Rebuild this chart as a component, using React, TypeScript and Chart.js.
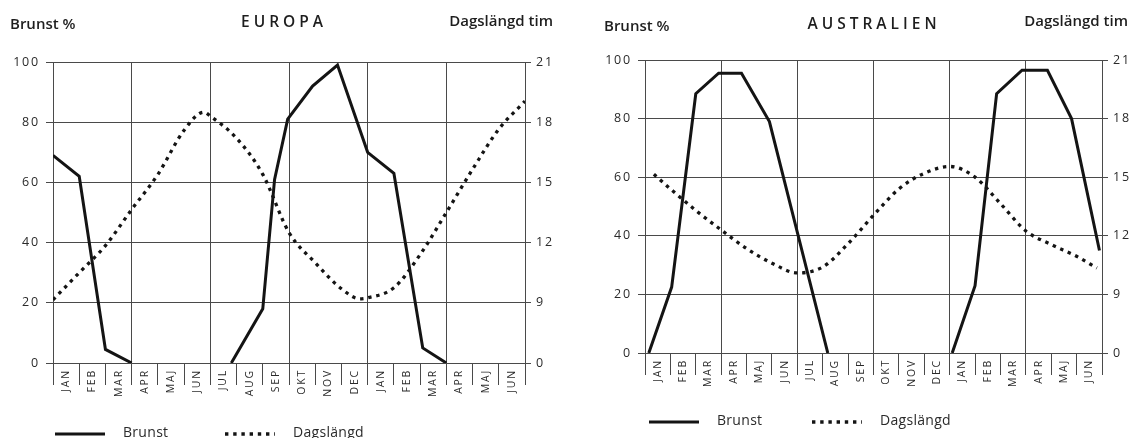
import React, { useEffect, useRef } from 'react';
import { Chart, registerables } from 'chart.js';

Chart.register(...registerables);

// ---------- data ----------
const MONTHS = ['JAN', 'FEB', 'MAR', 'APR', 'MAJ', 'JUN', 'JUL', 'AUG', 'SEP', 'OKT', 'NOV', 'DEC', 'JAN', 'FEB', 'MAR', 'APR', 'MAJ', 'JUN'];
const PERCENT_STEP = 20;
const HOUR_MIN = 6; // shown as "0" (broken axis)
const HOUR_MAX = 21;
const HOUR_STEP = 3;

// Europa – Brunst (%), positions in months from start of January
const EU_BRUNST_X = [0, 1, 2, 3, 5, 6.8, 8, 8.45, 8.95, 9.9, 10.85, 12, 13, 14.1, 15];
const EU_BRUNST = [69, 62, 4.5, 0, null, 0, 18, 61, 81, 92, 99, 70, 63, 5, 0];
// Europa – Dagslängd (hours)
const EU_DAG_X = [0, 1, 2, 3, 4, 5, 5.75, 6, 7, 8, 9, 10, 11, 11.7, 12, 13, 14, 15, 16, 17, 18];
const EU_DAG = [9.15, 10.5, 11.85, 13.65, 15.4, 17.6, 18.5, 18.3, 17.2, 15.4, 12.5, 11.0, 9.7, 9.2, 9.25, 9.75, 11.4, 13.5, 15.65, 17.65, 19.05];

// Australien – Brunst (%)
const AU_BRUNST_X = [0.15, 1.05, 2, 2.9, 3.8, 4.9, 7.2, 9.5, 12.1, 13, 13.85, 14.85, 15.85, 16.8, 17.9];
const AU_BRUNST = [0, 22.5, 88.5, 95.5, 95.5, 79, 0, null, 0, 23, 88.5, 96.5, 96.5, 80, 35];
// Australien – Dagslängd (hours)
const AU_DAG_X = [0.35, 1, 2, 3, 4, 5, 6, 7, 8, 9, 10, 11, 12, 13, 14, 15, 16, 17, 17.8];
const AU_DAG = [15.15, 14.4, 13.3, 12.3, 11.35, 10.6, 10.1, 10.4, 11.6, 13.05, 14.4, 15.2, 15.55, 15.0, 13.65, 12.25, 11.55, 10.95, 10.35];

// ---------- style ----------
const INK = '#141414';
const GRID = '#4a4a4a';
const TEXT = '#2a2a2a';
const FONT = "'Open Sans', 'DejaVu Sans', sans-serif";

const toPoints = (xs: number[], ys: (number | null)[]) => xs.map((x, i) => ({ x, y: ys[i] }));

const MONTH_TICKS: number[] = MONTHS.flatMap((_, i) => [i, i + 0.5]).concat([MONTHS.length]);

const spacing = {
  id: 'spacing',
  beforeDraw(chart: any) {
    chart.ctx.letterSpacing = '1.8px';
  },
  afterDraw(chart: any) {
    chart.ctx.letterSpacing = '0px';
  },
};

const sampleLegend = {
  id: 'sampleLegend',
  afterDraw(chart: any, _args: any, opts: any) {
    const ctx = chart.ctx;
    const { left, bottom } = chart.chartArea;
    const y = bottom + opts.dy;
    chart.data.datasets.forEach((ds: any, i: number) => {
      const x0 = left + opts.offsets[i];
      ctx.save();
      ctx.letterSpacing = '0.3px';
      ctx.strokeStyle = ds.borderColor;
      ctx.lineWidth = ds.borderWidth;
      ctx.setLineDash(ds.borderDash || []);
      ctx.beginPath();
      ctx.moveTo(x0, y);
      ctx.lineTo(x0 + opts.sample, y);
      ctx.stroke();
      ctx.setLineDash([]);
      ctx.fillStyle = TEXT;
      ctx.font = `14px ${FONT}`;
      ctx.textBaseline = 'middle';
      ctx.textAlign = 'left';
      ctx.fillText(ds.label, x0 + opts.sample + opts.gap, y - 1);
      ctx.restore();
    });
  },
};

type PanelProps = {
  brunst: { x: number; y: number | null }[];
  dag: { x: number; y: number | null }[];
  width: number;
  height: number;
  padTop: number;
  padBottom: number;
  leftWidth: number;
  rightWidth: number;
  legendOffsets: number[];
  legendDy: number;
};

function Panel(p: PanelProps) {
  const ref = useRef<HTMLCanvasElement | null>(null);
  useEffect(() => {
    if (!ref.current) return;
    const chart = new Chart(ref.current, {
      type: 'line',
      data: {
        datasets: [
          {
            label: 'Brunst',
            data: p.brunst as any,
            borderColor: INK,
            borderWidth: 3,
            pointRadius: 0,
            spanGaps: false,
            tension: 0,
            borderJoinStyle: 'miter',
            yAxisID: 'y',
          },
          {
            label: 'Dagslängd',
            data: p.dag as any,
            borderColor: INK,
            borderWidth: 3.3,
            borderDash: [3.4, 4.8],
            pointRadius: 0,
            cubicInterpolationMode: 'monotone',
            yAxisID: 'y1',
          },
        ],
      },
      plugins: [spacing, sampleLegend],
      options: {
        animation: false,
        responsive: false,
        maintainAspectRatio: false,
        layout: { padding: { top: p.padTop, bottom: p.padBottom, left: 0, right: 0 } },
        plugins: {
          legend: { display: false },
          tooltip: { enabled: false },
          sampleLegend: { offsets: p.legendOffsets, dy: p.legendDy, sample: 50, gap: 18 },
        } as any,
        scales: {
          x: {
            type: 'linear',
            min: 0,
            max: MONTHS.length,
            afterBuildTicks: (s: any) => {
              s.ticks = MONTH_TICKS.map((v) => ({ value: v }));
            },
            afterFit: (s: any) => {
              s.height = 40;
            },
            ticks: {
              autoSkip: false,
              minRotation: 90,
              maxRotation: 90,
              padding: -16,
              color: TEXT,
              font: { family: FONT, size: 10.5 },
              callback: (v: any) => (Number.isInteger(v) ? '' : MONTHS[Math.floor(v)]),
            },
            grid: {
              color: (c: any) =>
                c.tick && Number.isInteger(c.tick.value) && c.tick.value % 3 === 0 ? GRID : 'rgba(0,0,0,0)',
              tickColor: (c: any) => (c.tick && Number.isInteger(c.tick.value) ? GRID : 'rgba(0,0,0,0)'),
              tickLength: 22,
              lineWidth: 1,
            },
            border: { color: GRID, width: 1 },
          },
          y: {
            position: 'left',
            min: 0,
            max: 100,
            afterFit: (s: any) => {
              s.width = p.leftWidth;
            },
            ticks: { stepSize: PERCENT_STEP, padding: 6, color: TEXT, font: { family: FONT, size: 12.5 } },
            grid: { color: GRID, tickColor: GRID, tickLength: 7, lineWidth: 1 },
            border: { color: GRID, width: 1 },
          },
          y1: {
            position: 'right',
            min: HOUR_MIN,
            max: HOUR_MAX,
            afterFit: (s: any) => {
              s.width = p.rightWidth;
            },
            ticks: {
              stepSize: HOUR_STEP,
              padding: 5,
              color: TEXT,
              font: { family: FONT, size: 12.5 },
              callback: (v: any) => (v === HOUR_MIN ? '0' : String(v)),
            },
            grid: { drawOnChartArea: false, color: GRID, tickColor: GRID, tickLength: 6, lineWidth: 1 },
            border: { color: GRID, width: 1 },
          },
        },
      },
    } as any);
    return () => chart.destroy();
  }, []);
  return <canvas ref={ref} width={p.width} height={p.height} style={{ display: 'block' }} />;
}

const headStyle: React.CSSProperties = {
  position: 'absolute',
  fontFamily: FONT,
  fontWeight: 600,
  fontSize: 15,
  lineHeight: '20px',
  color: '#1e1e1e',
  whiteSpace: 'nowrap',
};
const titleStyle: React.CSSProperties = {
  position: 'absolute',
  fontFamily: FONT,
  fontWeight: 600,
  fontSize: 15.5,
  letterSpacing: '4px',
  lineHeight: '20px',
  color: '#1e1e1e',
  whiteSpace: 'nowrap',
  transform: 'translateX(-50%)',
};

export default function App() {
  return (
    <div style={{ position: 'absolute', left: 0, top: 0, width: 1135, height: 438, background: '#fff', overflow: 'hidden' }}>
      <div style={{ position: 'absolute', left: 0, top: 0 }}>
        <Panel
          brunst={toPoints(EU_BRUNST_X, EU_BRUNST)}
          dag={toPoints(EU_DAG_X, EU_DAG)}
          width={567}
          height={438}
          padTop={62}
          padBottom={35}
          leftWidth={53}
          rightWidth={42}
          legendOffsets={[2, 172]}
          legendDy={71}
        />
      </div>
      <div style={{ position: 'absolute', left: 567, top: 0 }}>
        <Panel
          brunst={toPoints(AU_BRUNST_X, AU_BRUNST)}
          dag={toPoints(AU_DAG_X, AU_DAG)}
          width={568}
          height={438}
          padTop={60}
          padBottom={45}
          leftWidth={78}
          rightWidth={33}
          legendOffsets={[4, 167]}
          legendDy={69}
        />
      </div>
      <div style={{ ...headStyle, left: 10, top: 13 }}>Brunst %</div>
      <div style={{ ...titleStyle, left: 284, top: 11 }}>EUROPA</div>
      <div style={{ ...headStyle, right: 1135 - 553, top: 10 }}>Dagslängd tim</div>
      <div style={{ ...headStyle, left: 604, top: 15 }}>Brunst %</div>
      <div style={{ ...titleStyle, left: 874, top: 13 }}>AUSTRALIEN</div>
      <div style={{ ...headStyle, right: 1135 - 1128, top: 10 }}>Dagslängd tim</div>
    </div>
  );
}
